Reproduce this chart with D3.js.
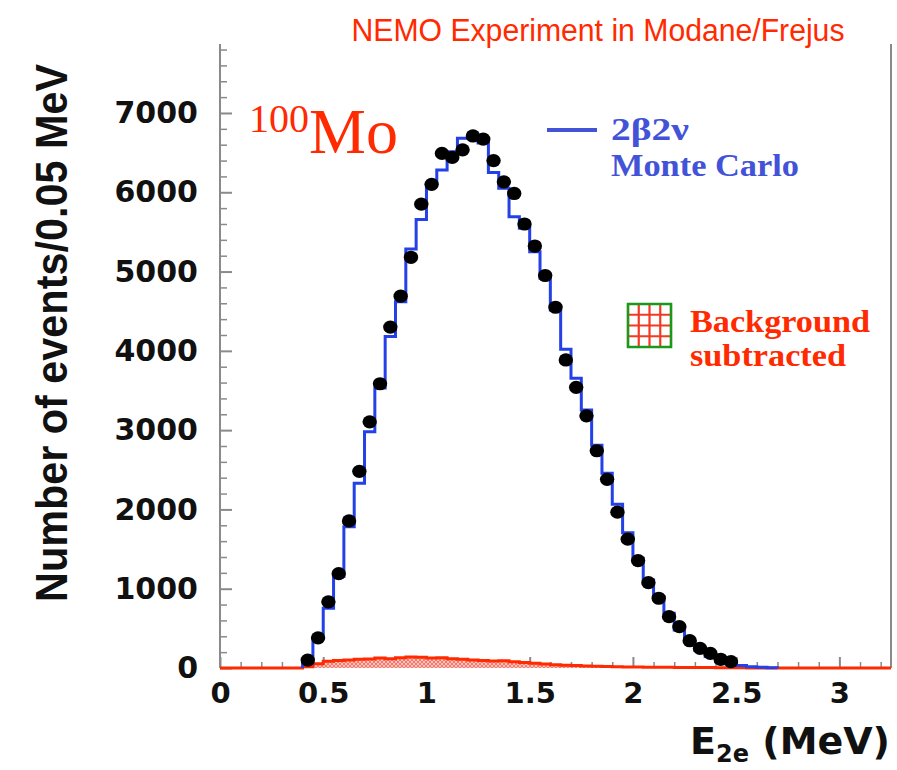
<!DOCTYPE html>
<html>
<head>
<meta charset="utf-8">
<script src="https://cdn.jsdelivr.net/npm/d3@7"></script>
<style>
  html, body { margin: 0; padding: 0; background: #ffffff; }
  svg { display: block; }
</style>
</head>
<body>
<svg id="chart" width="897" height="770"></svg>
<script>
// ---------------- DATA ----------------
const titleText = "NEMO Experiment in Modane/Frejus";
const yTickValues = [0, 1000, 2000, 3000, 4000, 5000, 6000, 7000];
const yMinorTickValues = [200,400,600,800,1200,1400,1600,1800,2200,2400,2600,2800,3200,3400,3600,3800,4200,4400,4600,4800,5200,5400,5600,5800,6200,6400,6600,6800,7200,7400,7600,7800];
const xTickValues = [0, 0.5, 1, 1.5, 2, 2.5, 3];
const xTickLabels = ["0", "0.5", "1", "1.5", "2", "2.5", "3"];
const xMinorTickValues = [0.1,0.2,0.3,0.4,0.6,0.7,0.8,0.9,1.1,1.2,1.3,1.4,1.6,1.7,1.8,1.9,2.1,2.2,2.3,2.4,2.6,2.7,2.8,2.9,3.1,3.2];

// measured data points (bin centres, MeV) and counts
const dataEnergy = [0.425,0.475,0.525,0.575,0.625,0.675,0.725,0.775,0.825,0.875,0.925,0.975,1.025,1.075,1.125,1.175,1.225,1.275,1.325,1.375,1.425,1.475,1.525,1.575,1.625,1.675,1.725,1.775,1.825,1.875,1.925,1.975,2.025,2.075,2.125,2.175,2.225,2.275,2.325,2.375,2.425,2.475];
const dataCounts = [100,380,835,1190,1855,2480,3105,3585,4300,4690,5180,5850,6100,6490,6440,6535,6710,6670,6400,6132,5985,5600,5322,4950,4550,3885,3540,3180,2740,2380,1965,1625,1355,1076,880,647,521,344,248,185,110,80];

// 2b2v Monte Carlo histogram (bin low edges, MeV) and counts
const mcBinLow = [0.40,0.45,0.50,0.55,0.60,0.65,0.70,0.75,0.80,0.85,0.90,0.95,1.00,1.05,1.10,1.15,1.20,1.25,1.30,1.35,1.40,1.45,1.50,1.55,1.60,1.65,1.70,1.75,1.80,1.85,1.90,1.95,2.00,2.05,2.10,2.15,2.20,2.25,2.30,2.35,2.40,2.45,2.50,2.55,2.60,2.65];
const mcCounts = [60,380,755,1155,1780,2330,2980,3530,4180,4620,5285,5655,6110,6280,6510,6680,6720,6620,6250,6050,5690,5545,5250,4915,4515,4020,3655,3255,2810,2455,2065,1705,1385,1110,900,690,480,330,225,145,80,50,30,15,8,3];
const mcEnd = 2.70;

// subtracted background histogram (bin low edges, MeV) and counts
const bgBinLow = [0.40,0.45,0.50,0.55,0.60,0.65,0.70,0.75,0.80,0.85,0.90,0.95,1.00,1.05,1.10,1.15,1.20,1.25,1.30,1.35,1.40,1.45,1.50,1.55,1.60,1.65,1.70,1.75,1.80,1.85,1.90,1.95,2.00,2.05,2.10,2.15,2.20,2.25,2.30,2.35,2.40,2.45,2.50];
const bgCounts = [15,55,85,95,100,110,115,125,118,130,140,135,125,130,118,110,100,95,88,92,80,70,60,50,42,35,30,25,22,18,15,14,12,10,9,8,7,6,5,5,4,4,3];
const bgEnd = 2.55;

// ---------------- LAYOUT ----------------
const svg = d3.select("#chart");
const plot = { left: 220, right: 891, top: 44, bottom: 668 };
const xDomain = [0, 3.25];
const yDomain = [0, 7870];
const x = d3.scaleLinear().domain(xDomain).range([plot.left, plot.right]);
const y = d3.scaleLinear().domain(yDomain).range([plot.bottom, plot.top]);

const RED = "#ff2a00";
const BLUE_LINE = "#2341e6";
const BLUE_TEXT = "#4353d8";
const AXIS = "#8a8a8a";
const SERIF = "'Liberation Serif', 'Times New Roman', serif";

// patterns
const defs = svg.append("defs");
const hatch = defs.append("pattern").attr("id", "hatch")
  .attr("patternUnits", "userSpaceOnUse").attr("width", 4).attr("height", 4);
hatch.append("rect").attr("width", 4).attr("height", 4).attr("fill", "#f9c2bc");
hatch.append("path").attr("d", "M0,0 L4,4 M4,0 L0,4").attr("stroke", "#ef5a4a").attr("stroke-width", 0.7);

// ---------------- TITLE ----------------
svg.append("text")
  .attr("x", 598).attr("y", 41)
  .attr("text-anchor", "middle")
  .attr("font-family", "'Liberation Sans', Arial, Helvetica, sans-serif")
  .attr("font-size", 31)
  .attr("textLength", 493)
  .attr("lengthAdjust", "spacingAndGlyphs")
  .attr("fill", RED)
  .text(titleText);

// ---------------- FRAME ----------------
svg.append("line").attr("x1", plot.left).attr("x2", plot.left)
  .attr("y1", plot.top).attr("y2", plot.bottom).attr("stroke", AXIS).attr("stroke-width", 2);
svg.append("line").attr("x1", plot.right).attr("x2", plot.right)
  .attr("y1", plot.top).attr("y2", plot.bottom).attr("stroke", AXIS).attr("stroke-width", 2);

// ---------------- AXES ----------------
const yMajor = svg.append("g").attr("transform", `translate(${plot.left},0)`)
  .call(d3.axisRight(y).tickValues(yTickValues).tickSize(12).tickFormat(""));
yMajor.select(".domain").remove();
yMajor.selectAll("line").attr("stroke", AXIS).attr("stroke-width", 2);
const yMinor = svg.append("g").attr("transform", `translate(${plot.left},0)`)
  .call(d3.axisRight(y).tickValues(yMinorTickValues).tickSize(7).tickFormat(""));
yMinor.select(".domain").remove();
yMinor.selectAll("line").attr("stroke", AXIS).attr("stroke-width", 1.5);
const yLab = svg.append("g").attr("transform", `translate(${plot.left},0)`)
  .call(d3.axisLeft(y).tickValues(yTickValues).tickSize(0).tickPadding(22).tickFormat(d3.format("d")));
yLab.select(".domain").remove();
yLab.selectAll("text")
  .attr("font-family", "'DejaVu Sans', sans-serif")
  .attr("font-weight", "bold")
  .attr("font-size", 30)
  .attr("fill", "#111");

const xMajor = svg.append("g").attr("transform", `translate(0,${plot.bottom})`)
  .call(d3.axisTop(x).tickValues(xTickValues).tickSize(11).tickFormat(""));
xMajor.select(".domain").remove();
xMajor.selectAll("line").attr("stroke", AXIS).attr("stroke-width", 2);
const xMinor = svg.append("g").attr("transform", `translate(0,${plot.bottom})`)
  .call(d3.axisTop(x).tickValues(xMinorTickValues).tickSize(6).tickFormat(""));
xMinor.select(".domain").remove();
xMinor.selectAll("line").attr("stroke", AXIS).attr("stroke-width", 1.5);
const xLab = svg.append("g").attr("transform", `translate(0,${plot.bottom})`)
  .call(d3.axisBottom(x).tickValues(xTickValues).tickSize(0).tickPadding(14)
    .tickFormat((d, i) => xTickLabels[i]));
xLab.select(".domain").remove();
xLab.selectAll("text")
  .attr("font-family", "'DejaVu Sans', sans-serif")
  .attr("font-weight", "bold")
  .attr("font-size", 29)
  .attr("fill", "#111");

// ---------------- BACKGROUND HISTOGRAM ----------------
const bgPts = [[xDomain[0], 0], [bgBinLow[0], 0]]
  .concat(bgBinLow.map((e, i) => [e, bgCounts[i]]))
  .concat([[bgEnd, 0], [xDomain[1], 0]]);
const bgArea = d3.area().curve(d3.curveStepAfter)
  .x(d => x(d[0])).y0(y(0)).y1(d => y(d[1]));
svg.append("path").datum(bgPts).attr("d", bgArea).attr("fill", "url(#hatch)");
const bgLine = d3.line().curve(d3.curveStepAfter).x(d => x(d[0])).y(d => y(d[1]));
svg.append("path").datum(bgPts).attr("d", bgLine)
  .attr("fill", "none").attr("stroke", RED).attr("stroke-width", 3);

// ---------------- MC HISTOGRAM ----------------
const mcPts = [[mcBinLow[0], 0]]
  .concat(mcBinLow.map((e, i) => [e, mcCounts[i]]))
  .concat([[mcEnd, 0]]);
svg.append("path").datum(mcPts)
  .attr("d", d3.line().curve(d3.curveStepAfter).x(d => x(d[0])).y(d => y(d[1])))
  .attr("fill", "none").attr("stroke", BLUE_LINE).attr("stroke-width", 3);

// ---------------- DATA POINTS ----------------
svg.append("g").selectAll("ellipse")
  .data(dataEnergy.map((e, i) => [e, dataCounts[i]]))
  .join("ellipse")
  .attr("cx", d => x(d[0])).attr("cy", d => y(d[1]))
  .attr("rx", 7.2).attr("ry", 6.6)
  .attr("fill", "#000");

// ---------------- AXIS TITLES ----------------
svg.append("text")
  .attr("transform", "translate(67,333) rotate(-90)")
  .attr("text-anchor", "middle")
  .attr("font-family", "'Liberation Sans', Arial, sans-serif")
  .attr("font-weight", "bold")
  .attr("font-size", 44)
  .attr("textLength", 538)
  .attr("lengthAdjust", "spacingAndGlyphs")
  .attr("fill", "#111")
  .text("Number of events/0.05 MeV");

const xt = svg.append("text")
  .attr("x", 890).attr("y", 754)
  .attr("text-anchor", "end")
  .attr("font-family", "'DejaVu Sans', sans-serif")
  .attr("font-weight", "bold")
  .attr("font-size", 38)
  .attr("fill", "#111");
xt.append("tspan").text("E");
xt.append("tspan").attr("font-size", 24).attr("dy", 8).text("2e");
xt.append("tspan").attr("dy", -8).text(" (MeV)");

// ---------------- ANNOTATIONS ----------------
const iso = svg.append("text")
  .attr("x", 249).attr("y", 153)
  .attr("font-family", SERIF)
  .attr("fill", RED);
iso.append("tspan").attr("font-size", 40).attr("dy", -21).text("100");
iso.append("tspan").attr("font-size", 64).attr("dy", 21).text("Mo");

// MC legend
svg.append("line").attr("x1", 547).attr("x2", 597).attr("y1", 130).attr("y2", 130)
  .attr("stroke", BLUE_TEXT).attr("stroke-width", 4);
svg.append("text").attr("x", 611).attr("y", 140)
  .attr("font-family", SERIF)
  .attr("font-weight", "bold").attr("font-size", 32).attr("fill", BLUE_TEXT)
  .attr("textLength", 78).attr("lengthAdjust", "spacingAndGlyphs")
  .text("2β2ν");
svg.append("text").attr("x", 611).attr("y", 176)
  .attr("font-family", SERIF)
  .attr("font-weight", "bold").attr("font-size", 32).attr("fill", BLUE_TEXT)
  .attr("textLength", 188).attr("lengthAdjust", "spacingAndGlyphs")
  .text("Monte Carlo");

// Background legend
const box = { x: 628, y: 304, s: 43, n: 4 };
const bx = d3.scaleLinear().domain([0, box.n]).range([box.x, box.x + box.s]);
const by = d3.scaleLinear().domain([0, box.n]).range([box.y, box.y + box.s]);
svg.append("rect").attr("x", box.x).attr("y", box.y).attr("width", box.s).attr("height", box.s)
  .attr("fill", "#fff");
const gridIdx = [0, 1, 2, 3, 4];
svg.append("g").selectAll("line.v").data(gridIdx).join("line")
  .attr("x1", d => bx(d)).attr("x2", d => bx(d)).attr("y1", box.y).attr("y2", box.y + box.s)
  .attr("stroke", "#f03a22").attr("stroke-width", 2.2);
svg.append("g").selectAll("line.h").data(gridIdx).join("line")
  .attr("y1", d => by(d)).attr("y2", d => by(d)).attr("x1", box.x).attr("x2", box.x + box.s)
  .attr("stroke", "#f03a22").attr("stroke-width", 2.2);
svg.append("rect").attr("x", box.x).attr("y", box.y).attr("width", box.s).attr("height", box.s)
  .attr("fill", "none").attr("stroke", "#1a9a1a").attr("stroke-width", 2.5);
svg.append("text").attr("x", 690).attr("y", 332)
  .attr("font-family", SERIF)
  .attr("font-weight", "bold").attr("font-size", 30.5).attr("fill", RED)
  .attr("textLength", 180).attr("lengthAdjust", "spacingAndGlyphs")
  .text("Background");
svg.append("text").attr("x", 690).attr("y", 366)
  .attr("font-family", SERIF)
  .attr("font-weight", "bold").attr("font-size", 30.5).attr("fill", RED)
  .attr("textLength", 156).attr("lengthAdjust", "spacingAndGlyphs")
  .text("subtracted");
</script>
</body>
</html>
